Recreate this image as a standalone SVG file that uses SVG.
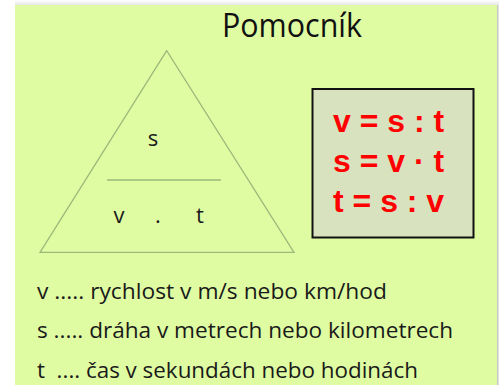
<svg xmlns="http://www.w3.org/2000/svg" width="499" height="385" viewBox="0 0 499 385">
  <defs>
    <linearGradient id="rshadow" x1="0" y1="0" x2="1" y2="0">
      <stop offset="0" stop-color="#b8b8b8"/>
      <stop offset="1" stop-color="#f0f0f0"/>
    </linearGradient>
    <linearGradient id="tshadow" x1="0" y1="0" x2="0" y2="1">
      <stop offset="0" stop-color="#ffffff"/>
      <stop offset="1" stop-color="#e6e6e6"/>
    </linearGradient>
  </defs>
  <style>
    .tri { fill: none; stroke: #9cb97c; stroke-width: 1.3; }
    .lbl { font-family: "Open Sans", "Liberation Sans", sans-serif; font-size: 22px; fill: #1a1a1a; }
    .eq { font-family: "Liberation Sans", Arial, sans-serif; font-weight: bold; font-size: 32px; fill: #ff0000; }
    .leg { font-family: "Open Sans", "Liberation Sans", sans-serif; font-size: 22px; fill: #1a1a1a; white-space: pre; }
    .title { font-family: "Open Sans", "Liberation Sans", sans-serif; font-size: 32px; fill: #111111; }
  </style>
  <rect x="0" y="0" width="499" height="385" fill="#ffffff"/>
  <rect x="15" y="0" width="484" height="5" fill="url(#tshadow)"/>
  <rect x="497" y="5" width="2" height="380" fill="url(#rshadow)"/>
  <rect x="15" y="5" width="482" height="380" fill="#e0fca2"/>

  <g id="title">
    <text class="title" x="292" y="37" text-anchor="middle" textLength="140" lengthAdjust="spacingAndGlyphs">Pomocník</text>
  </g>

  <g id="triangle">
    <polygon class="tri" points="166.7,50.7 40,252.3 294,252.3"/>
    <line class="tri" x1="107" y1="180" x2="221" y2="180"/>
    <text class="lbl" x="153" y="146" text-anchor="middle">s</text>
    <text class="lbl" x="119" y="223" text-anchor="middle">v</text>
    <text class="lbl" x="158" y="223" text-anchor="middle">.</text>
    <text class="lbl" x="200" y="223" text-anchor="middle">t</text>
  </g>

  <g id="formulas">
    <rect x="312.5" y="89" width="161" height="148.5" fill="#d8e2bf" stroke="#111111" stroke-width="2"/>
    <text class="eq" x="333" y="132">v = s : t</text>
    <text class="eq" x="333" y="172">s = v · t</text>
    <text class="eq" x="333" y="212">t = s : v</text>
  </g>

  <g id="legend">
    <text class="leg" x="37" y="299" textLength="350" lengthAdjust="spacingAndGlyphs">v ..... rychlost v m/s nebo km/hod</text>
    <text class="leg" x="37" y="338" textLength="416" lengthAdjust="spacingAndGlyphs">s ..... dráha v metrech nebo kilometrech</text>
    <text class="leg" x="37" y="378" textLength="381" lengthAdjust="spacingAndGlyphs" xml:space="preserve">t  .... čas v sekundách nebo hodinách</text>
  </g>
</svg>
